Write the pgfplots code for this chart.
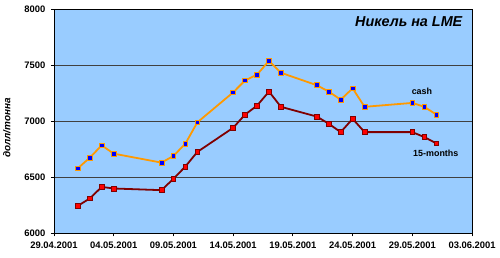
\documentclass[border=0pt]{standalone}
\usepackage{pgfplots}
\pgfplotsset{compat=1.18}
\usepackage{fontspec}
\setmainfont{Liberation Sans}
\definecolor{bg}{HTML}{99CCFF}
\definecolor{cashline}{HTML}{FF9900}
\definecolor{fmline}{HTML}{800000}
\begin{document}
\begin{tikzpicture}
\begin{axis}[
  at={(52bp,24.7bp)}, anchor=south west,
  scale only axis, width=420bp, height=225bp,
  xmin=0, xmax=35, ymin=6000, ymax=8000,
  axis background/.style={fill=bg},
  axis line style={black, line width=0.8bp},
  xtick={0,5,10,15,20,25,30,35},
  xticklabels={29.04.2001,04.05.2001,09.05.2001,14.05.2001,19.05.2001,24.05.2001,29.05.2001,03.06.2001},
  ytick={6000,6500,7000,7500,8000},
  yticklabels={6000,6500,7000,7500,8000},
  tick pos=left, tick align=outside, major tick length=3bp,
  tick style={black, line width=0.8bp},
  ymajorgrids, grid style={black!75, line width=0.9bp},
  ticklabel style={font=\bfseries\fontsize{9.5}{11}\selectfont},
  xticklabel style={yshift=-2.5bp},
  yticklabel style={xshift=-2bp},
  ylabel={долл/тонна},
  ylabel style={font=\bfseries\itshape\fontsize{10}{12}\selectfont, at={(axis description cs:-0.095,0.47)}},
  clip=false,
]
\addplot[cashline, line width=1.8bp, mark=square*, mark size=2.4bp, mark options={fill=blue, draw=cashline, line width=0.7bp}] coordinates {
(2,6580) (3,6675) (4,6785) (5,6711) (9,6631) (10,6690) (11,6800) (12,6990)
(15,7258) (16,7365) (17,7416) (18,7540) (19,7433) (22,7322) (23,7265) (24,7193)
(25,7294) (26,7129) (30,7164) (31,7129) (32,7060)};
\addplot[fmline, line width=1.8bp, mark=square*, mark size=2.4bp, mark options={fill=red, draw=fmline, line width=0.7bp}] coordinates {
(2,6245) (3,6311) (4,6414) (5,6400) (9,6385) (10,6486) (11,6596) (12,6726)
(15,6942) (16,7060) (17,7140) (18,7265) (19,7129) (22,7042) (23,6978) (24,6903)
(25,7022) (26,6903) (30,6903) (31,6859) (32,6803)};
\node[font=\bfseries\fontsize{9}{10}\selectfont] at (axis cs:30.8,7265) {cash};
\node[font=\bfseries\fontsize{9}{10}\selectfont] at (axis cs:31.96,6714) {15-months};
\node[anchor=east, font=\bfseries\itshape\fontsize{14.5}{16}\selectfont] at (axis description cs:0.985,0.944) {Никель на LME};
\end{axis}
\path[use as bounding box] (0,0) rectangle (500bp,259bp);
\end{tikzpicture}
\end{document}
